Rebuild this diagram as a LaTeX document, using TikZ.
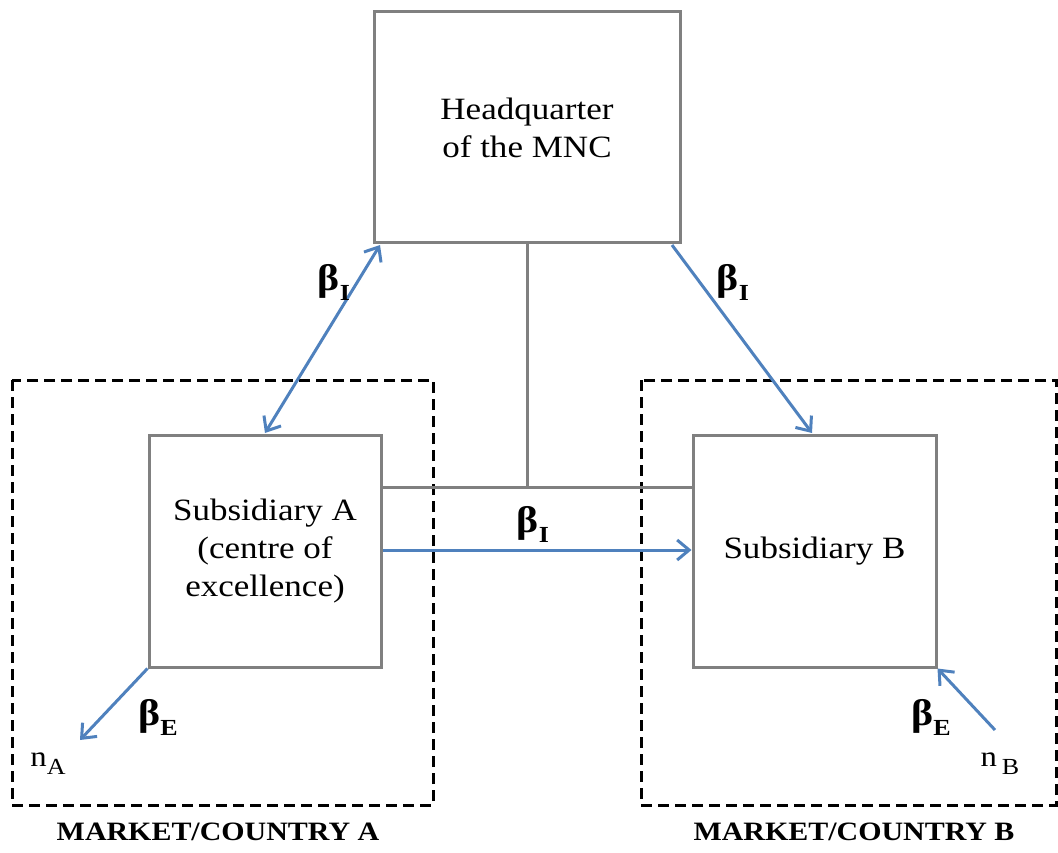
\documentclass[tikz,border=0pt]{standalone}
\usepackage{fontspec}
\setmainfont{Liberation Serif}[FakeStretch=1.13]
\usetikzlibrary{arrows.meta}
\definecolor{boxgray}{RGB}{128,128,128}
\definecolor{arrowblue}{RGB}{79,129,189}
\begin{document}
\begin{tikzpicture}[x=1pt,y=-1pt,
  box/.style={draw=boxgray,line width=3pt,inner sep=0pt,align=center,font=\fontsize{31}{38}\selectfont},
  market/.style={draw=black,line width=3pt,dash pattern=on 11pt off 6pt},
  link/.style={draw=boxgray,line width=3pt},
  flow/.style={draw=arrowblue,line width=3pt,-{Straight Barb[length=12pt,width=20pt,line width=3pt]}},
  biflow/.style={draw=arrowblue,line width=3pt,{Straight Barb[length=12pt,width=20pt,line width=3pt]}-{Straight Barb[length=12pt,width=20pt,line width=3pt]}},
  lab/.style={font=\fontsize{37}{40}\selectfont\bfseries,inner sep=0pt},
  small/.style={font=\fontsize{29}{32}\selectfont,inner sep=0pt},
  captext/.style={font=\fontsize{26.5}{30}\selectfont\bfseries,inner sep=0pt}]
\useasboundingbox (0,0) rectangle (1058,853);
% market areas
\draw[market] (12,380) rectangle (433,805);
\draw[market] (641,380) rectangle (1056,805);
% boxes
\node[box,minimum width=306pt,minimum height=231pt] (hq) at (527,127.5) {Headquarter\\of the MNC};
\node[box,minimum width=232pt,minimum height=232pt,fill=white] (sa) at (265,551) {Subsidiary A\\(centre of\\excellence)};
\node[box,minimum width=243pt,minimum height=232pt,fill=white] (sb) at (814.5,551) {Subsidiary B};
% organisational links
\coordinate (j) at (527,487);
\draw[link] (hq.south) -- (j);
\draw[link] (sa.east |- j) -- (sb.west |- j);
% flows
\draw[biflow] (265,433) -- (380,245);
\draw[flow] (672,245) -- (812,433);
\draw[flow] (sa.east |- 0,550) -- (sb.west |- 0,550);
\coordinate (na) at (80,740);
\coordinate (nb) at (995,730);
\draw[flow] (sa.south west) -- (na);
\draw[flow] (nb) -- (sb.south east);
% labels
\node[lab] (b1) at (334,282) {β\raisebox{-10pt}{\fontsize{23}{24}\selectfont I}};
\node[lab] (b2) at (733,282) {β\raisebox{-10pt}{\fontsize{23}{24}\selectfont I}};
\node[lab] (b3) at (533,524) {β\raisebox{-10pt}{\fontsize{23}{24}\selectfont I}};
\node[lab] (b4) at (158,717) {β\raisebox{-10pt}{\fontsize{23}{24}\selectfont E}};
\node[lab] (b5) at (931,717) {β\raisebox{-10pt}{\fontsize{23}{24}\selectfont E}};
\node[small] (tna) at (48,764) {n\raisebox{-8pt}{\fontsize{23}{24}\selectfont A}};
\node[small] (tnb) at (1000,764) {n\,\raisebox{-8pt}{\fontsize{23}{24}\selectfont B}};
\node[captext] (ca) at (218,832) {MARKET/COUNTRY A};
\node[captext] (cb) at (854,832) {MARKET/COUNTRY B};
\end{tikzpicture}
\end{document}
